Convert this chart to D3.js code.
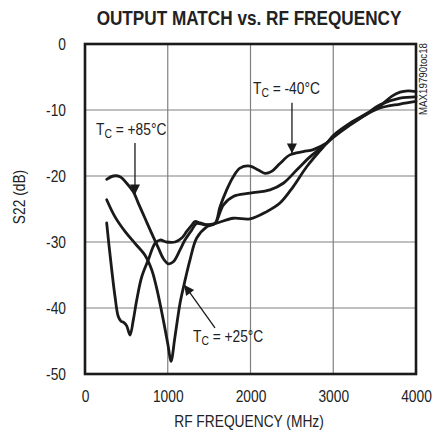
<!DOCTYPE html>
<html><head><meta charset="utf-8">
<script src="https://cdn.jsdelivr.net/npm/d3@7"></script>
<style>
html,body{margin:0;padding:0;background:#fff;}
text{font-family:"Liberation Sans Narrow","Liberation Sans",Arial,sans-serif;fill:#222;}
</style></head>
<body>
<svg id="c" width="446" height="439"></svg>
<script>
// ---- data (MHz, dB) ----
const freqTicks = [0, 1000, 2000, 3000, 4000];
const dbTicks = [0, -10, -20, -30, -40, -50];

const freq85 = [262,342,423,504,584,644,725,806,886,946,1007,1067,1148,1208,1289,1350,1450,1571,1792,1994,2196,2356,2517,2679,2880,2997,3202,3408,3565,3807,4000];
const s22_85 = [-20.5,-20.0,-20.1,-21.1,-22.4,-24.1,-26.4,-28.7,-30.9,-32.5,-33.3,-33.0,-31.2,-29.7,-28.2,-27.2,-27.4,-27.2,-26.4,-26.5,-25.4,-24.1,-21.6,-18.6,-15.6,-14.1,-12.1,-10.6,-9.7,-9.1,-8.7];

const freq25 = [262,363,483,604,725,806,866,946,1007,1039,1088,1148,1200,1269,1350,1471,1571,1671,1792,1994,2236,2396,2558,2719,2921,2997,3202,3408,3565,3807,4000];
const s22_25 = [-23.6,-26.2,-28.4,-30.2,-32.0,-34.2,-37.0,-41.8,-45.9,-48.1,-44.3,-39.3,-36.3,-32.7,-29.4,-27.7,-27.2,-24.4,-23.1,-22.6,-22.1,-21.1,-19.1,-17.1,-15.0,-13.9,-12.0,-10.5,-9.2,-8.2,-8.0];

const freqM40 = [262,290,323,363,402,435,471,504,544,584,625,685,765,846,906,987,1088,1169,1229,1293,1329,1390,1486,1571,1631,1712,1792,1873,1994,2094,2175,2256,2356,2477,2638,2759,2921,2997,3202,3408,3565,3710,3807,3903,4000];
const s22_M40 = [-27.1,-30.5,-34.2,-38.3,-41.3,-42.0,-42.2,-42.7,-44.1,-41.8,-38.8,-35.3,-32.7,-30.2,-29.7,-30.0,-30.0,-29.4,-28.4,-27.4,-26.9,-27.1,-27.4,-27.2,-24.7,-22.1,-20.1,-18.8,-18.5,-19.1,-19.6,-19.3,-18.1,-16.8,-16.3,-16.0,-15.0,-14.2,-12.3,-10.6,-9.4,-7.9,-7.3,-7.1,-7.2];

// annotations in data space: label start (f, dB), arrow from -> to
const annotations = [
  {temp:"+85°C", lx:133, ly:-13.8, ax0:604, ay0:-15.0, ax1:604, ay1:-22.8},
  {temp:"-40°C", lx:2030, ly:-7.6, ax0:2501, ay0:-8.9, ax1:2501, ay1:-16.6},
  {temp:"+25°C", lx:1305, ly:-45.2, ax0:1571, ay0:-43.0, ax1:1200, ay1:-36.5}
];

// ---- layout ----
const K = 0.86; // condensed look
function narrow(sel, k) {
  sel.each(function () {
    const l = this.getComputedTextLength();
    d3.select(this).attr("textLength", l * (k || K)).attr("lengthAdjust", "spacingAndGlyphs");
  });
}

const svg = d3.select("#c");
const L = 85, R = 416, T = 44, B = 374;
const x = d3.scaleLinear().domain([0, 4000]).range([L, R]);
const y = d3.scaleLinear().domain([0, -50]).range([T, B]);

// grid
svg.append("g").selectAll("line").data(freqTicks.slice(1, -1)).join("line")
  .attr("x1", d => x(d)).attr("x2", d => x(d)).attr("y1", T).attr("y2", B)
  .attr("stroke", "#808080").attr("stroke-width", 1.2);
svg.append("g").selectAll("line").data(dbTicks.slice(1, -1)).join("line")
  .attr("x1", L).attr("x2", R).attr("y1", d => y(d)).attr("y2", d => y(d))
  .attr("stroke", "#808080").attr("stroke-width", 1.2);

// axes labels via d3 axes
const xa = svg.append("g").attr("transform", `translate(0,${B})`)
  .call(d3.axisBottom(x).tickValues(freqTicks).tickSize(0).tickPadding(17).tickFormat(d => String(d)));
xa.select(".domain").remove();
xa.selectAll("text").attr("font-size", 16).attr("font-family", null).attr("fill", "#222");
narrow(xa.selectAll("text"));

const ya = svg.append("g").attr("transform", `translate(${L},0)`)
  .call(d3.axisLeft(y).tickValues(dbTicks).tickSize(0).tickPadding(19).tickFormat(d => String(d)));
ya.select(".domain").remove();
ya.selectAll("text").attr("font-size", 16).attr("font-family", null).attr("fill", "#222");
narrow(ya.selectAll("text"));

// frame
svg.append("rect").attr("x", L).attr("y", T).attr("width", R - L).attr("height", B - T)
  .attr("fill", "none").attr("stroke", "#1a1a1a").attr("stroke-width", 2.6);

// curves
const line = d3.line().x(d => x(d[0])).y(d => y(d[1])).curve(d3.curveCatmullRom.alpha(0.5));
const series = [
  d3.zip(freq85, s22_85),
  d3.zip(freq25, s22_25),
  d3.zip(freqM40, s22_M40)
];
svg.append("g").selectAll("path").data(series).join("path")
  .attr("d", line).attr("fill", "none").attr("stroke", "#1a1a1a")
  .attr("stroke-width", 2.8).attr("stroke-linejoin", "round").attr("stroke-linecap", "round");

// arrow marker
svg.append("defs").append("marker").attr("id", "ah")
  .attr("viewBox", "0 0 10 10").attr("refX", 10).attr("refY", 5)
  .attr("markerWidth", 13).attr("markerHeight", 10).attr("markerUnits", "userSpaceOnUse")
  .attr("orient", "auto")
  .append("path").attr("d", "M0,0 L10,5 L0,10 Z").attr("fill", "#1a1a1a");

annotations.forEach(a => {
  const t = svg.append("text").attr("x", x(a.lx)).attr("y", y(a.ly)).attr("font-size", 16);
  t.append("tspan").text("T");
  t.append("tspan").attr("font-size", 12).attr("dy", 3).text("C");
  t.append("tspan").attr("dy", -3).text(" = " + a.temp);
  narrow(t);
  svg.append("line").attr("x1", x(a.ax0)).attr("y1", y(a.ay0)).attr("x2", x(a.ax1)).attr("y2", y(a.ay1))
    .attr("stroke", "#1a1a1a").attr("stroke-width", 1.3).attr("marker-end", "url(#ah)");
});

// title
const title = svg.append("text").attr("x", 0).attr("y", 0).attr("text-anchor", "middle")
  .attr("font-size", 20).attr("font-weight", "bold").attr("fill", "#1a1a1a")
  .text("OUTPUT MATCH vs. RF FREQUENCY");
const tw = title.node().getComputedTextLength();
title.attr("transform", `translate(249,25) scale(${305 / tw},1)`);

// axis titles
const xl = svg.append("text").attr("x", 249).attr("y", 427).attr("text-anchor", "middle")
  .attr("font-size", 16).text("RF FREQUENCY (MHz)");
narrow(xl);
const yl = svg.append("text").attr("transform", "translate(25,197) rotate(-90)").attr("text-anchor", "middle")
  .attr("font-size", 16).text("S22 (dB)");
narrow(yl);

// part code
const pc = svg.append("text").attr("transform", "translate(427,79) rotate(-90)").attr("text-anchor", "middle")
  .attr("font-size", 10).text("MAX19790toc18");
narrow(pc, 72 / pc.node().getComputedTextLength());
</script>
</body></html>
